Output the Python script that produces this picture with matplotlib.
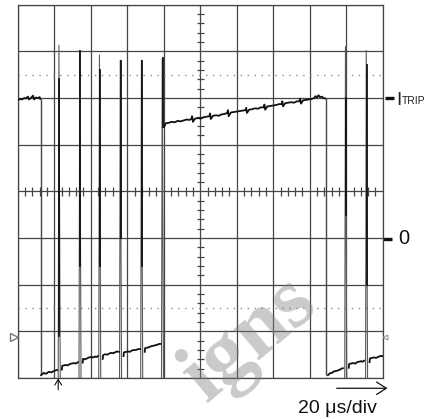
import matplotlib
matplotlib.use("Agg")
import matplotlib.pyplot as plt
import numpy as np

# scope screen is 10 x 8 divisions; everything below is read in divisions
# from the bottom-left corner of the graticule
start_x = [0.01, 0.08, 0.12, 0.18, 0.23, 0.28, 0.31, 0.36, 0.42, 0.45, 0.50, 0.56, 0.60, 0.62]
start_y = [5.96, 5.98, 5.97, 6.00, 5.99, 6.03, 5.97, 6.00, 6.05, 5.97, 6.01, 6.00, 6.02, 5.98]

# low ramps after each switching spike
low_x = [
    [0.64, 0.68, 0.72, 0.76, 0.80, 0.84, 0.88, 0.92, 0.97, 1.02, 1.08],
    [1.21, 1.22, 1.27, 1.32, 1.37, 1.43, 1.48, 1.54, 1.60, 1.65],
    [1.78, 1.79, 1.84, 1.90, 1.95, 2.01, 2.06, 2.12, 2.16, 2.20],
    [2.33, 2.34, 2.40, 2.45, 2.50, 2.56, 2.61, 2.67, 2.72, 2.77],
    [2.90, 2.91, 2.97, 3.02, 3.07, 3.13, 3.18, 3.24, 3.30, 3.35],
    [3.48, 3.49, 3.55, 3.60, 3.65, 3.71, 3.76, 3.82, 3.87, 3.91],
    [8.50, 8.55, 8.61, 8.66, 8.72, 8.77, 8.83, 8.87, 8.91],
    [9.07, 9.08, 9.13, 9.19, 9.25, 9.30, 9.36, 9.41, 9.45, 9.49],
    [9.64, 9.65, 9.70, 9.76, 9.82, 9.87, 9.93, 10.0],
]
low_y = [
    [0.06, 0.09, 0.11, 0.09, 0.10, 0.13, 0.13, 0.12, 0.14, 0.16, 0.17],
    [0.18, 0.26, 0.27, 0.28, 0.27, 0.30, 0.31, 0.32, 0.31, 0.34],
    [0.33, 0.41, 0.40, 0.42, 0.44, 0.45, 0.44, 0.46, 0.45, 0.47],
    [0.41, 0.49, 0.51, 0.50, 0.52, 0.54, 0.53, 0.55, 0.57, 0.56],
    [0.47, 0.55, 0.56, 0.57, 0.56, 0.59, 0.60, 0.60, 0.62, 0.62],
    [0.56, 0.64, 0.65, 0.66, 0.68, 0.69, 0.70, 0.71, 0.73, 0.73],
    [0.06, 0.10, 0.11, 0.14, 0.15, 0.16, 0.18, 0.20, 0.21],
    [0.22, 0.30, 0.31, 0.32, 0.31, 0.34, 0.35, 0.36, 0.35, 0.37],
    [0.34, 0.42, 0.43, 0.44, 0.43, 0.45, 0.47, 0.47],
]

# spikes: position, peak and the darker (dense) stretch of the trace
spike_x = [1.14, 1.71, 2.25, 2.82, 3.40, 3.97, 8.99, 9.56]
spike_peak = [7.13, 7.02, 6.92, 6.81, 6.81, 6.85, 7.10, 7.02]
dark_top = [6.40, 7.00, 6.60, 6.80, 6.80, 6.85, 6.00, 6.70]
dark_bot = [0.90, 2.40, 2.40, 3.00, 2.40, 5.38, 3.50, 2.00]

# ramp back up to I_TRIP
high_x = [4.01, 4.06, 4.14, 4.22, 4.30, 4.38, 4.46, 4.55, 4.63, 4.70, 4.76, 4.78, 4.80,
          4.86, 4.94, 5.02, 5.10, 5.18, 5.25, 5.27, 5.29, 5.35, 5.43, 5.51, 5.59, 5.67,
          5.74, 5.76, 5.78, 5.84, 5.92, 6.00, 6.08, 6.16, 6.24, 6.26, 6.28, 6.34, 6.42,
          6.50, 6.58, 6.66, 6.74, 6.76, 6.78, 6.84, 6.92, 7.00, 7.08, 7.16, 7.23, 7.25,
          7.27, 7.33, 7.41, 7.49, 7.57, 7.65, 7.72, 7.74, 7.76, 7.82, 7.90, 7.98, 8.06,
          8.12, 8.16, 8.20, 8.24, 8.28, 8.33, 8.38, 8.42]
high_y = [5.38, 5.46, 5.47, 5.49, 5.48, 5.51, 5.50, 5.52, 5.54, 5.53, 5.55, 5.61, 5.49,
          5.56, 5.57, 5.56, 5.59, 5.60, 5.61, 5.67, 5.55, 5.62, 5.63, 5.62, 5.65, 5.66,
          5.68, 5.74, 5.61, 5.69, 5.70, 5.71, 5.72, 5.73, 5.74, 5.79, 5.68, 5.75, 5.76,
          5.78, 5.77, 5.80, 5.80, 5.86, 5.75, 5.82, 5.83, 5.84, 5.85, 5.87, 5.87, 5.93,
          5.82, 5.89, 5.90, 5.91, 5.90, 5.93, 5.93, 5.99, 5.88, 5.95, 5.96, 5.97, 5.98,
          6.00, 6.04, 6.01, 6.06, 6.02, 6.03, 6.00, 5.99]

drop_x = [0.63, 8.44]
drop_top = [5.98, 5.99]
drop_bot = [0.06, 0.06]

trip_level = 6
zero_level = 3

grid_col = "#454545"
trace_col = "#111111"

fig = plt.figure(figsize=(4.38, 4.19), dpi=100)
ax = fig.add_axes([17.7 / 438, 41 / 419, 365 / 438, 373.3 / 419])
ax.set_xlim(0, 10)
ax.set_ylim(0, 8)
ax.set_xticks(range(11))
ax.set_yticks(range(9))
ax.tick_params(length=0, labelbottom=False, labelleft=False)
ax.grid(True, color=grid_col, lw=0.9)
for s in ax.spines.values():
    s.set_color(grid_col)
    s.set_linewidth(0.9)

# dotted reference lines
for yd in [6.5, 1.5]:
    ax.axhline(yd, color="#8c8c8c", lw=1.0, ls=(0, (1, 4)))

# minor ticks on the centre axes
minor_x = [v for v in np.arange(0.2, 10, 0.2) if abs(v - round(v)) > 0.01]
minor_y = [v for v in np.arange(0.2, 8, 0.2) if abs(v - round(v)) > 0.01]
ax.vlines(minor_x, 4 - 0.09, 4 + 0.09, color=grid_col, lw=0.9)
ax.hlines(minor_y, 5 - 0.095, 5 + 0.095, color=grid_col, lw=0.9)

# watermark
fig.text(250 / 438, 1 - 340 / 419, "igns", fontsize=62, family="Liberation Serif",
         weight="bold", color="gray", alpha=0.42, rotation=40,
         ha="center", va="center", zorder=1)

# spikes
for x, p, t, b in zip(spike_x, spike_peak, dark_top, dark_bot):
    ax.plot([x - 0.03, x - 0.01, x + 0.025], [0.0, p, 0.0], color="#5a5a5a", lw=0.8, zorder=3)
    ax.plot([x, x], [b, t], color=trace_col, lw=1.3, zorder=4)

# drops
ax.vlines(drop_x, drop_bot, drop_top, color="#444444", lw=1.0, zorder=3)

ax.plot(start_x, start_y, color=trace_col, lw=1.3, zorder=5)
ax.plot(high_x, high_y, color=trace_col, lw=1.3, zorder=5)
for lx, ly in zip(low_x, low_y):
    ax.plot(lx, ly, color=trace_col, lw=1.3, zorder=5)

# level labels on the right
ax.plot([10.06, 10.30], [trip_level, trip_level], color="#111111", lw=2.4,
        clip_on=False, solid_capstyle="butt")
ax.text(10.36, trip_level - 0.15, "I", fontsize=13.5, family="Liberation Sans",
        color="#222222", va="baseline", clip_on=False)
ax.text(10.52, trip_level - 0.13, "TRIP", fontsize=7.5, family="Liberation Sans",
        color="#222222", va="baseline", clip_on=False)
ax.plot([10.0, 10.25], [zero_level - 0.02, zero_level - 0.02], color="#111111", lw=2.4,
        clip_on=False, solid_capstyle="butt")
ax.text(10.42, zero_level, "0", fontsize=14.5, family="Liberation Sans",
        color="#111111", va="center", clip_on=False)

# time base
ax.text(7.68, -0.76, "20 \u03bcs/div", fontsize=14, family="Liberation Sans",
        color="#111111", va="baseline", clip_on=False)
ax.annotate("", xy=(10.13, -0.22), xytext=(8.74, -0.22), annotation_clip=False,
            arrowprops=dict(arrowstyle="->,head_length=0.7,head_width=0.45",
                            color="#111111", lw=0.9, shrinkA=0, shrinkB=0))

# trigger markers
ax.annotate("", xy=(1.11, -0.01), xytext=(1.11, -0.25), annotation_clip=False,
            arrowprops=dict(arrowstyle="->,head_length=0.4,head_width=0.25",
                            color="#111111", lw=0.8, shrinkA=0, shrinkB=0))
ax.plot([-0.115], [0.87], marker=">", ms=6, mfc="white", mec="#777777", mew=1.0,
        clip_on=False, zorder=6)
ax.plot([10.06], [0.885], marker="<", ms=3.5, mfc="none", mec="#999999", mew=0.8,
        clip_on=False, zorder=6)

fig.savefig("out.png", dpi=100, facecolor="white")
